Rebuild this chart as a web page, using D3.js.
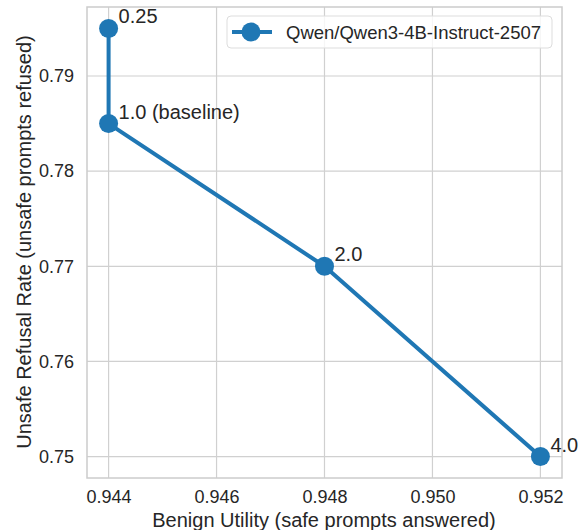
<!DOCTYPE html>
<html><head><meta charset="utf-8">
<script src="https://cdn.jsdelivr.net/npm/d3@7"></script>
<style>body{margin:0;background:#fff}text{font-family:"Liberation Sans",Arial,sans-serif;fill:#262626}</style>
</head><body><svg id="c" width="583" height="530"></svg>
<script>
const labels = ["0.25", "1.0 (baseline)", "2.0", "4.0"];
const utility = [0.944, 0.944, 0.948, 0.952];
const refusal = [0.795, 0.785, 0.770, 0.750];
const xTicks = [0.944, 0.946, 0.948, 0.950, 0.952];
const yTicks = [0.75, 0.76, 0.77, 0.78, 0.79];
const seriesName = "Qwen/Qwen3-4B-Instruct-2507";

const svg = d3.select("#c");
const L = 87, R = 562, T = 7, B = 478;
const x = d3.scaleLinear().domain([0.9436, 0.9524]).range([L, R]);
const y = d3.scaleLinear().domain([0.74775, 0.79725]).range([B, T]);
const color = "#1f77b4";

const g = svg.append("g");
g.selectAll(".gx").data(xTicks).enter().append("line")
  .attr("x1", d => x(d)).attr("x2", d => x(d)).attr("y1", T).attr("y2", B)
  .attr("stroke", "#d0d0d0").attr("stroke-width", 1.2);
g.selectAll(".gy").data(yTicks).enter().append("line")
  .attr("y1", d => y(d)).attr("y2", d => y(d)).attr("x1", L).attr("x2", R)
  .attr("stroke", "#d0d0d0").attr("stroke-width", 1.2);
g.append("rect").attr("x", L).attr("y", T).attr("width", R - L).attr("height", B - T)
  .attr("fill", "none").attr("stroke", "#cccccc").attr("stroke-width", 1.5);

const xAxis = d3.axisBottom(x).tickValues(xTicks).tickFormat(d3.format(".3f")).tickSize(0).tickPadding(12);
const yAxis = d3.axisLeft(y).tickValues(yTicks).tickFormat(d3.format(".2f")).tickSize(0).tickPadding(13);
const ax = svg.append("g").attr("transform", `translate(0,${B})`).call(xAxis);
const ay = svg.append("g").attr("transform", `translate(${L},0)`).call(yAxis);
[ax, ay].forEach(a => { a.select(".domain").remove(); a.selectAll("text").style("font-size", "18px").attr("fill", "#262626"); });

svg.append("text").attr("x", 324).attr("y", 527).attr("text-anchor", "middle")
  .style("font-size", "20px").text("Benign Utility (safe prompts answered)");
svg.append("text").attr("transform", `translate(31,242) rotate(-90)`).attr("text-anchor", "middle")
  .style("font-size", "20px").text("Unsafe Refusal Rate (unsafe prompts refused)");

const pts = labels.map((l, i) => ({l, u: utility[i], r: refusal[i]}));
svg.append("path").datum(pts)
  .attr("d", d3.line().x(d => x(d.u)).y(d => y(d.r)))
  .attr("fill", "none").attr("stroke", color).attr("stroke-width", 4).attr("stroke-linejoin", "round");
svg.selectAll(".pt").data(pts).enter().append("circle")
  .attr("cx", d => x(d.u)).attr("cy", d => y(d.r)).attr("r", 9.5).attr("fill", color);
svg.selectAll(".lb").data(pts).enter().append("text")
  .attr("x", d => x(d.u) + 10).attr("y", d => y(d.r) - 5)
  .style("font-size", "20px").text(d => d.l);

const lg = svg.append("g");
lg.append("rect").attr("x", 227).attr("y", 16).attr("width", 325).attr("height", 32).attr("rx", 4)
  .attr("fill", "#fff").attr("fill-opacity", 0.8).attr("stroke", "#dddddd");
lg.append("line").attr("x1", 232).attr("x2", 272).attr("y1", 32).attr("y2", 32)
  .attr("stroke", color).attr("stroke-width", 4);
lg.append("circle").attr("cx", 251).attr("cy", 32).attr("r", 9.5).attr("fill", color);
lg.append("text").attr("x", 286).attr("y", 38.5).style("font-size", "18.5px").text(seriesName);
</script></body></html>
